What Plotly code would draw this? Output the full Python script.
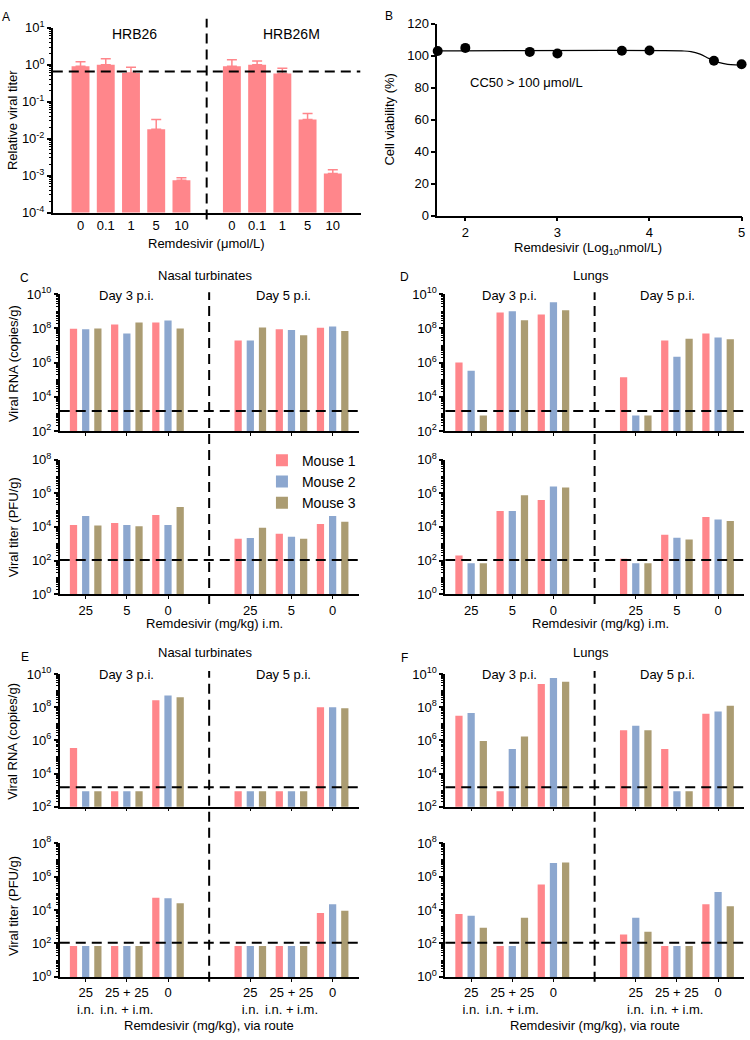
import plotly.graph_objects as go

W, H = 750, 1040
FONT = "Liberation Sans, Arial, sans-serif"
PINK = "#FF868B"
BLUE = "#8CA7CF"
TAN = "#AB9C72"
MOUSE_COLORS = [PINK, BLUE, TAN]
MOUSE_NAMES = ["Mouse 1", "Mouse 2", "Mouse 3"]

# ---------------- Panel A data ----------------
a_categories = ["0", "0.1", "1", "5", "10", "", "0", "0.1", "1", "5", "10"]
a_values = [0.9, 1.0, 0.6, 0.018, 0.00075, None, 0.9, 1.0, 0.58, 0.033, 0.00115]
a_upper = [1.2, 1.45, 0.85, 0.033, 0.00088, None, 1.35, 1.25, 0.8, 0.048, 0.00145]
a_threshold = 0.65
a_strains = ["HRB26", "HRB26M"]

# ---------------- Panel B data ----------------
b_logconc = [1.7, 2.0, 2.7, 3.0, 3.7, 4.0, 4.7, 5.0]
b_viability = [102.9, 104.9, 102.4, 101.4, 103.1, 103.3, 96.9, 94.7]
b_fit_x = [1.7, 4.35, 4.45, 4.55, 4.65, 4.75, 4.85, 4.95, 5.0]
b_fit_y = [103.0, 103.0, 102.6, 101.0, 98.2, 95.8, 94.6, 94.2, 94.1]

# ---------------- Panels C-F data (order: day3 25,5,0 / day5 25,5,0) ----------------
im_categories = ["25", "5", "0", "", "25", "5", "0"]
route_categories = ["25<br>i.n.", "25 + 25<br>i.n. + i.m.", "0", "",
                    "25<br>i.n.", "25 + 25<br>i.n. + i.m.", "0"]

c_rna_m1 = [9.5e7, 1.7e8, 2.2e8, 2.0e7, 9.0e7, 1.1e8]
c_rna_m2 = [9.0e7, 5.0e7, 2.9e8, 2.0e7, 8.0e7, 1.3e8]
c_rna_m3 = [1.0e8, 2.2e8, 1.0e8, 1.15e8, 4.0e7, 7.0e7]
c_pfu_m1 = [1.3e4, 1.7e4, 5.0e4, 2.0e3, 3.9e3, 1.5e4]
c_pfu_m2 = [4.4e4, 1.3e4, 1.3e4, 2.2e3, 2.6e3, 4.5e4]
c_pfu_m3 = [1.2e4, 1.1e4, 1.5e5, 9.0e3, 2.0e3, 2.0e4]

d_rna_m1 = [1.0e6, 8.7e8, 6.6e8, 1.4e5, 2.0e7, 5.0e7]
d_rna_m2 = [3.4e5, 1.0e9, 3.4e9, 800, 2.2e6, 3.0e7]
d_rna_m3 = [800, 3.0e8, 1.15e9, 800, 2.5e7, 2.3e7]
d_pfu_m1 = [200, 8.7e4, 4.0e5, 130, 3.4e3, 3.8e4]
d_pfu_m2 = [70, 8.8e4, 2.5e6, 70, 2.3e3, 2.7e4]
d_pfu_m3 = [70, 7.6e5, 2.2e6, 70, 1.8e3, 2.2e4]

e_rna_m1 = [3.5e5, 870, 2.6e8, 870, 870, 1.0e8]
e_rna_m2 = [870, 870, 5.0e8, 870, 870, 1.0e8]
e_rna_m3 = [870, 870, 4.0e8, 870, 870, 8.5e7]
e_pfu_m1 = [70, 70, 5.5e4, 70, 70, 6.7e3]
e_pfu_m2 = [70, 70, 5.0e4, 70, 70, 2.2e4]
e_pfu_m3 = [70, 70, 2.5e4, 70, 70, 9.0e3]

f_rna_m1 = [3.0e7, 870, 2.5e9, 4.0e6, 3.0e5, 4.0e7]
f_rna_m2 = [4.5e7, 3.0e5, 5.8e9, 7.6e6, 870, 5.5e7]
f_rna_m3 = [9.0e5, 1.7e6, 3.4e9, 4.0e6, 870, 1.2e8]
f_pfu_m1 = [5.8e3, 70, 3.4e5, 340, 70, 2.2e4]
f_pfu_m2 = [4.5e3, 70, 6.6e6, 3.4e3, 70, 1.2e5]
f_pfu_m3 = [870, 3.4e3, 7.0e6, 500, 70, 1.7e4]

lod_rna = 1500
lod_pfu = 110

# ---------------- helpers ----------------
fig = go.Figure()


def xd(a, b):
    return [a / W, b / W]


def yd(top, bottom):
    return [1 - bottom / H, 1 - top / H]


def py(y):
    return 1 - y / H


AX = dict(showline=True, linecolor="black", linewidth=1.5, ticks="outside",
          tickcolor="black", tickwidth=1.5, ticklen=4, showgrid=False,
          zeroline=False, tickfont=dict(size=13, color="black", family=FONT))


def set_axis(name, **kw):
    d = dict(AX)
    d.update(kw)
    fig.update_layout(**{name: d})


def log_ticks(lo, hi, step):
    vals = [10 ** e for e in range(lo, hi + 1, step)]
    txt = ["10<sup>%d</sup>" % e for e in range(lo, hi + 1, step)]
    minor = [k * 10 ** e for e in range(lo, hi) for k in range(1, 10)]
    return vals, txt, minor


def text(x, y, s, size=13, angle=0, xanchor="center"):
    fig.add_annotation(x=x / W, y=1 - y / H, xref="paper", yref="paper", text=s,
                       showarrow=False, textangle=angle, xanchor=xanchor,
                       yanchor="middle", font=dict(size=size, family=FONT, color="black"))


DASH = dict(color="black", width=2, dash="10px,6px")

# ---------------- Panel A ----------------
a_slots = [i for i, c in enumerate(a_categories) if c]
a_y = [v for v in a_values if v is not None]
a_err = [u - v for u, v in zip(a_upper, a_values) if v is not None]
fig.add_trace(go.Bar(x=a_slots, y=a_y, width=0.71, marker=dict(color=PINK, line=dict(width=0)),
                     error_y=dict(type="data", symmetric=False, array=a_err,
                                  arrayminus=[0] * len(a_err), color=PINK, thickness=1.5, width=5),
                     xaxis="x", yaxis="y", showlegend=False))
a_range = [-1.1, 11.1]
fig.add_trace(go.Scatter(x=a_range, y=[a_threshold, a_threshold], mode="lines", line=DASH,
                         xaxis="x", yaxis="y", showlegend=False, hoverinfo="skip"))
tv, tt, mn = log_ticks(-4, 1, 1)
set_axis("xaxis", domain=xd(53, 362), anchor="y", range=a_range, tickmode="array",
         tickvals=a_slots, ticktext=[c for c in a_categories if c], ticks="")
set_axis("yaxis", domain=yd(19, 207), anchor="x", type="log", range=[-4, 1], tickmode="array",
         tickvals=tv, ticktext=tt,
         minor=dict(tickmode="array", tickvals=mn, ticks="outside", ticklen=2.5, tickwidth=1,
                    tickcolor="black"))
fig.add_shape(type="line", xref="x", yref="paper", x0=5, x1=5, y0=py(214), y1=py(10), line=DASH)
text(135, 25, a_strains[0], 14)
text(293, 25, a_strains[1], 14)
text(207, 238, "Remdesivir (μmol/L)", 13)
text(12, 113, "Relative viral titer", 13, angle=-90)
text(6, 8, "A", 12)

# ---------------- Panel B ----------------
fig.add_trace(go.Scatter(x=b_fit_x, y=b_fit_y, mode="lines", line=dict(color="black", width=1.2, shape="spline"),
                         xaxis="x2", yaxis="y2", showlegend=False, hoverinfo="skip"))
fig.add_trace(go.Scatter(x=b_logconc, y=b_viability, mode="markers", cliponaxis=False,
                         marker=dict(color="black", size=10), xaxis="x2", yaxis="y2", showlegend=False))
set_axis("xaxis2", domain=xd(439, 745), anchor="y2", range=[1.695, 5.005], tickvals=[2, 3, 4, 5])
set_axis("yaxis2", domain=yd(15, 210), anchor="x2", range=[0, 120], tickvals=[0, 20, 40, 60, 80, 100, 120])
text(470, 75, "CC50 > 100 μmol/L", 13, xanchor="left")
text(590, 243, "Remdesivir (Log<sub>10</sub>nmol/L)", 13)
text(391, 112, "Cell viability (%)", 13, angle=-90)
text(391, 7, "B", 12)

# ---------------- Panels C-F ----------------
BAR_STEP = 0.296
BAR_W = 0.176
G_RANGE = [-0.63, 6.63]


def group_panel(xa_top, ya_top, xa_bot, ya_bot, cats, rna, pfu, xdom, top_dom, bot_dom, legend=False):
    slots = [i for i, c in enumerate(cats) if c]
    for (xa, ya, series, lod) in ((xa_top, ya_top, rna, lod_rna), (xa_bot, ya_bot, pfu, lod_pfu)):
        for k, vals in enumerate(series):
            fig.add_trace(go.Bar(x=slots, y=vals, width=BAR_W, offset=(k - 1) * BAR_STEP - BAR_W / 2,
                                 marker=dict(color=MOUSE_COLORS[k], line=dict(width=0)),
                                 name=MOUSE_NAMES[k], showlegend=(legend and ya == ya_bot),
                                 xaxis=xa, yaxis=ya))
        fig.add_trace(go.Scatter(x=G_RANGE, y=[lod, lod], mode="lines", line=DASH, xaxis=xa, yaxis=ya,
                                 showlegend=False, hoverinfo="skip"))
    xn_top = "xaxis" + xa_top[1:]
    xn_bot = "xaxis" + xa_bot[1:]
    yn_top = "yaxis" + ya_top[1:]
    yn_bot = "yaxis" + ya_bot[1:]
    set_axis(xn_top, domain=xdom, anchor=ya_top, range=G_RANGE, tickmode="array", tickvals=slots,
             showticklabels=False, ticklen=3, tickwidth=1)
    set_axis(xn_bot, domain=xdom, anchor=ya_bot, range=G_RANGE, tickmode="array", tickvals=slots,
             ticktext=[c for c in cats if c], ticklen=3, tickwidth=1)
    tv, tt, mn = log_ticks(2, 10, 2)
    set_axis(yn_top, domain=top_dom, anchor=xa_top, type="log", range=[2, 10], tickmode="array",
             tickvals=tv, ticktext=tt,
             minor=dict(tickmode="array", tickvals=mn, ticks="outside", ticklen=2.5, tickwidth=1,
                        tickcolor="black"))
    tv, tt, mn = log_ticks(0, 8, 2)
    set_axis(yn_bot, domain=bot_dom, anchor=xa_bot, type="log", range=[0, 8], tickmode="array",
             tickvals=tv, ticktext=tt,
             minor=dict(tickmode="array", tickvals=mn, ticks="outside", ticklen=2.5, tickwidth=1,
                        tickcolor="black"))


ROW1_TOP = yd(290, 429)
ROW1_BOT = yd(458, 595)
ROW2_TOP = yd(676, 811)
ROW2_BOT = yd(848, 984)
LEFT = xd(60, 360)
RIGHT = xd(447, 747)

group_panel("x3", "y3", "x4", "y4", im_categories, [c_rna_m1, c_rna_m2, c_rna_m3],
            [c_pfu_m1, c_pfu_m2, c_pfu_m3], LEFT, ROW1_TOP, ROW1_BOT, legend=True)
group_panel("x5", "y5", "x6", "y6", im_categories, [d_rna_m1, d_rna_m2, d_rna_m3],
            [d_pfu_m1, d_pfu_m2, d_pfu_m3], RIGHT, ROW1_TOP, ROW1_BOT)
group_panel("x7", "y7", "x8", "y8", route_categories, [e_rna_m1, e_rna_m2, e_rna_m3],
            [e_pfu_m1, e_pfu_m2, e_pfu_m3], LEFT, ROW2_TOP, ROW2_BOT)
group_panel("x9", "y9", "x10", "y10", route_categories, [f_rna_m1, f_rna_m2, f_rna_m3],
            [f_pfu_m1, f_pfu_m2, f_pfu_m3], RIGHT, ROW2_TOP, ROW2_BOT)

for xa, top, bot in (("x3", 288, 605), ("x5", 288, 605), ("x7", 673, 989), ("x9", 673, 989)):
    fig.add_shape(type="line", xref=xa, yref="paper", x0=3, x1=3, y0=py(bot), y1=py(top), line=DASH)

# titles C-F
text(206, 271, "Nasal turbinates", 13)
text(593, 271, "Lungs", 13)
text(206, 654, "Nasal turbinates", 13)
text(593, 654, "Lungs", 13)
for cx, y in ((127, 291), (512, 291), (127, 677), (512, 677)):
    text(cx, y, "Day 3 p.i.", 13)
for cx, y in ((285, 291), (670, 291), (285, 677), (670, 677)):
    text(cx, y, "Day 5 p.i.", 13)
text(215, 625, "Remdesivir (mg/kg) i.m.", 13)
text(603, 625, "Remdesivir (mg/kg) i.m.", 13)
text(210, 1033, "Remdesivir (mg/kg), via route", 13)
text(597, 1033, "Remdesivir (mg/kg), via route", 13)
text(13, 360, "Viral RNA (copies/g)", 13, angle=-90)
text(13, 527, "Viral titer (PFU/g)", 13, angle=-90)
text(13, 744, "Viral RNA (copies/g)", 13, angle=-90)
text(13, 912, "Viral titer (PFU/g)", 13, angle=-90)
text(25, 273, "C", 12)
text(406, 272, "D", 12)
text(25, 659, "E", 12)
text(406, 660, "F", 12)

fig.update_layout(
    width=W, height=H, margin=dict(l=0, r=0, t=0, b=0),
    paper_bgcolor="white", plot_bgcolor="white", barmode="overlay",
    font=dict(family=FONT, size=13, color="black"),
    legend=dict(x=263 / W, y=1 - 443 / H, xanchor="left", yanchor="top",
                font=dict(size=14, family=FONT, color="black"), bgcolor="rgba(0,0,0,0)",
                itemwidth=30),
)

fig.write_html("out.html", config={"displayModeBar": False},
               post_script="document.body.style.margin='0';document.body.style.overflow='hidden';")
